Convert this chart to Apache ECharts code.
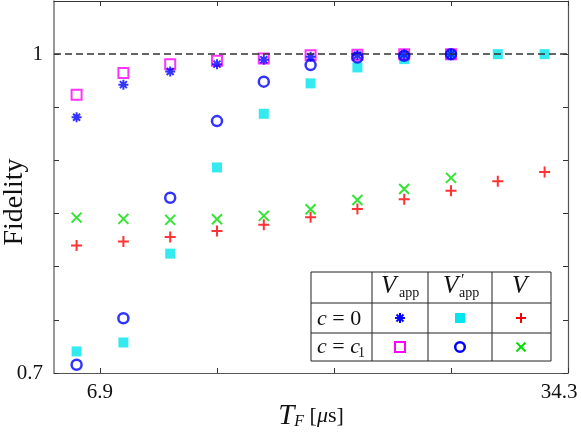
<!DOCTYPE html>
<html>
<head>
<meta charset="utf-8">
<script src="https://cdn.jsdelivr.net/npm/echarts@6/dist/echarts.min.js"></script>
<style>
  html, body { margin: 0; padding: 0; background: #fff; }
  #chart { width: 581px; height: 433px; }
</style>
</head>
<body>
<div id="chart"></div>
<script>
// T_F values (us)
var tf = [5.53, 8.27, 11.01, 13.75, 16.49, 19.23, 21.97, 24.71, 27.45, 30.19, 32.93];
var xTicks = [6.9, 13.75, 20.6, 27.45, 34.3];
var xLabels = [6.9, 34.3];
var yLabels = [0.7, 1];

// fidelity values, one array per marker
var vAppC0 = [0.9407, 0.9713, 0.9837, 0.9906, 0.9947, 0.9975, 0.9990, 0.9997, 1.0];      // blue *
var vAppC1 = [0.9619, 0.9822, 0.9906, 0.9937, 0.9959, 0.9990, 0.9995, 1.0, 1.0];         // magenta square
var vpAppC0 = [0.7203, 0.7287, 0.8123, 0.8934, 0.9439, 0.9725, 0.9875, 0.9953, 0.9990, 1.0, 1.0]; // cyan square
var vpAppC1 = [0.7078, 0.7515, 0.8649, 0.9370, 0.9741, 0.9897, 0.9968, 0.9984, 1.0];     // blue circle
var vC0 = [0.8200, 0.8238, 0.8279, 0.8335, 0.8394, 0.8466, 0.8543, 0.8634, 0.8715, 0.8805, 0.8890]; // red +
var vC1 = [0.8462, 0.8450, 0.8441, 0.8447, 0.8478, 0.8541, 0.8628, 0.8731, 0.8836];     // green x

function pts(vals) {
  return vals.map(function (v, i) { return [tf[i], v]; });
}

var PLUS = 'path://M5,0L5,10M0,5L10,5';
var CROSS = 'path://M0,0L10,10M0,10L10,0';
var STAR = 'path://M5,0L5,10M0,5L10,5M1.5,1.5L8.5,8.5M1.5,8.5L8.5,1.5';

var serif = '"Liberation Serif", "DejaVu Serif", serif';

// small marker drawings for the legend table
function mark(kind, cx, cy) {
  var h = 5, s = 4.5;
  var lines = [];
  if (kind === 'plus' || kind === 'star') {
    lines.push([cx, cy - h, cx, cy + h], [cx - h, cy, cx + h, cy]);
  }
  if (kind === 'cross' || kind === 'star') {
    var d = kind === 'star' ? 3.5 : s;
    lines.push([cx - d, cy - d, cx + d, cy + d], [cx - d, cy + d, cx + d, cy - d]);
  }
  var col = { plus: '#ff0000', cross: '#00dd00', star: '#0000ff' }[kind];
  if (lines.length) {
    return lines.map(function (l) {
      return { type: 'line', shape: { x1: l[0], y1: l[1], x2: l[2], y2: l[3] }, style: { stroke: col, lineWidth: 2 } };
    });
  }
  if (kind === 'fsq') return [{ type: 'rect', shape: { x: cx - 5, y: cy - 5, width: 10, height: 10 }, style: { fill: '#00e5ee' } }];
  if (kind === 'hsq') return [{ type: 'rect', shape: { x: cx - 5, y: cy - 5, width: 10, height: 10 }, style: { fill: 'none', stroke: '#ff00ff', lineWidth: 2 } }];
  if (kind === 'circ') return [{ type: 'circle', shape: { cx: cx, cy: cy, r: 4.8 }, style: { fill: 'none', stroke: '#0000ff', lineWidth: 2.5 } }];
  return [];
}

function txt(x, y, text, size, italic, align) {
  return {
    type: 'text', x: x, y: y,
    style: {
      text: text, fontFamily: serif, fontSize: size, fontStyle: italic ? 'italic' : 'normal',
      fill: '#111', align: align || 'left', verticalAlign: 'middle'
    }
  };
}

var colX = [311, 372, 428, 492, 551];
var rowY = [272, 303, 333, 361];
var table = [];
table.push({ type: 'rect', shape: { x: colX[0], y: rowY[0], width: colX[4] - colX[0], height: rowY[3] - rowY[0] },
  style: { fill: '#fff', stroke: '#222', lineWidth: 1 } });
[1, 2, 3].forEach(function (i) {
  table.push({ type: 'line', shape: { x1: colX[i], y1: rowY[0], x2: colX[i], y2: rowY[3] }, style: { stroke: '#222', lineWidth: 1 } });
});
[1, 2].forEach(function (i) {
  table.push({ type: 'line', shape: { x1: colX[0], y1: rowY[i], x2: colX[4], y2: rowY[i] }, style: { stroke: '#222', lineWidth: 1 } });
});
// header
table.push(txt(381, 286, 'V', 25, true));
table.push(txt(399, 293, 'app', 14, false));
table.push(txt(443, 286, 'V', 25, true));
table.push(txt(461, 281, '\u2032', 16, false));
table.push(txt(459, 293, 'app', 14, false));
table.push(txt(512, 286, 'V', 25, true));
// row labels
table.push({
  type: 'text', x: 317, y: 319,
  style: {
    text: '{i|c} = 0', fontFamily: serif, fontSize: 22, fill: '#111', verticalAlign: 'middle',
    rich: { i: { fontFamily: serif, fontSize: 22, fontStyle: 'italic', fill: '#111' } }
  }
});
table.push({
  type: 'text', x: 317, y: 347,
  style: {
    text: '{i|c} = {i|c}', fontFamily: serif, fontSize: 22, fill: '#111', verticalAlign: 'middle',
    rich: { i: { fontFamily: serif, fontSize: 22, fontStyle: 'italic', fill: '#111' } }
  }
});
table.push(txt(358, 353, '1', 14, false));
table = table
  .concat(mark('star', 400, 318))
  .concat(mark('fsq', 460, 318))
  .concat(mark('plus', 521, 318))
  .concat(mark('hsq', 400, 347))
  .concat(mark('circ', 460, 347))
  .concat(mark('cross', 521, 347));

var chart = echarts.init(document.getElementById('chart'));

var xMin = 4.207, xMax = 34.3;

var option = {
  animation: false,
  backgroundColor: '#fff',
  grid: { left: 54, right: 13, top: 1, bottom: 60, containLabel: false, outerBoundsMode: 'none' },
  xAxis: [
    {
      type: 'value', min: xMin, max: xMax, position: 'bottom',
      axisLine: { lineStyle: { color: '#555', width: 1.2 } },
      axisTick: { inside: true, length: 5, customValues: xTicks, lineStyle: { color: '#333' } },
      axisLabel: {
        customValues: xLabels, margin: 9, fontFamily: serif, fontSize: 21, color: '#111',
        formatter: function (v) { return Math.abs(v - 34.3) < 1e-6 ? '{r|34.3}' : String(v); },
        rich: { r: { fontFamily: serif, fontSize: 21, color: '#111', padding: [0, 18, 0, 0] } }
      },
      splitLine: { show: false },
      name: '{t|T}{f|F} [{m|\u03bc}s]',
      nameLocation: 'middle', nameGap: 29, nameMoveOverlap: false,
      nameTextStyle: {
        fontFamily: serif, fontSize: 22, color: '#111',
        rich: {
          t: { fontFamily: serif, fontSize: 29, fontStyle: 'italic', color: '#111' },
          f: { fontFamily: serif, fontSize: 16, fontStyle: 'italic', color: '#111', padding: [10, 0, 0, 0] },
          m: { fontFamily: serif, fontSize: 22, fontStyle: 'italic', color: '#111' }
        }
      }
    },
    {
      type: 'value', min: xMin, max: xMax, position: 'top',
      axisLine: { lineStyle: { color: '#333', width: 1.2 } },
      axisTick: { inside: true, length: 5, customValues: xTicks, lineStyle: { color: '#333' } },
      axisLabel: { show: false },
      splitLine: { show: false }
    }
  ],
  yAxis: [
    {
      type: 'value', min: 0.7, max: 1.05, interval: 0.05,
      axisLine: { show: true, lineStyle: { color: '#777', width: 1.5 } },
      axisTick: { show: true, inside: true, length: 5, lineStyle: { color: '#333' } },
      axisLabel: {
        margin: 11, fontFamily: serif, fontSize: 21, color: '#111',
        formatter: function (v) {
          for (var i = 0; i < yLabels.length; i++) {
            if (Math.abs(v - yLabels[i]) < 1e-6) return String(yLabels[i]);
          }
          return '';
        }
      },
      splitLine: { show: false },
      name: 'Fidelity', nameLocation: 'middle', nameGap: 25, nameMoveOverlap: false,
      nameTextStyle: { fontFamily: serif, fontSize: 28, color: '#111', padding: [0, 30, 0, 0] }
    },
    {
      type: 'value', min: 0.7, max: 1.05, interval: 0.05, position: 'right',
      axisLine: { show: true, lineStyle: { color: '#555', width: 1.2 } },
      axisTick: { show: true, inside: true, length: 5, lineStyle: { color: '#333' } },
      axisLabel: { show: false },
      splitLine: { show: false }
    }
  ],
  series: [
    {
      name: 'vpAppC0', type: 'scatter', data: pts(vpAppC0), symbol: 'rect', symbolSize: 10,
      itemStyle: { color: '#00e5ee' }, z: 2,
      markLine: {
        silent: true, symbol: 'none', label: { show: false },
        lineStyle: { type: [7, 4], color: '#333', width: 1.7 },
        data: [{ yAxis: 1 }]
      }
    },
    {
      name: 'vAppC1', type: 'scatter', data: pts(vAppC1), symbol: 'rect', symbolSize: 10,
      itemStyle: { color: 'rgba(0,0,0,0)', borderColor: '#ff00ff', borderWidth: 2 }, z: 3
    },
    {
      name: 'vAppC0', type: 'scatter', data: pts(vAppC0), symbol: STAR, symbolSize: 10,
      itemStyle: { color: 'rgba(0,0,0,0)', borderColor: '#0000ff', borderWidth: 2 }, z: 4
    },
    {
      name: 'vpAppC1', type: 'scatter', data: pts(vpAppC1), symbol: 'circle', symbolSize: 10,
      itemStyle: { color: 'rgba(0,0,0,0)', borderColor: '#0000ff', borderWidth: 2.5 }, z: 5
    },
    {
      name: 'vC1', type: 'scatter', data: pts(vC1), symbol: CROSS, symbolSize: 10,
      itemStyle: { color: 'rgba(0,0,0,0)', borderColor: '#00dd00', borderWidth: 2 }, z: 4
    },
    {
      name: 'vC0', type: 'scatter', data: pts(vC0), symbol: PLUS, symbolSize: 11,
      itemStyle: { color: 'rgba(0,0,0,0)', borderColor: '#ff0000', borderWidth: 2 }, z: 4
    }
  ],
  graphic: table
};

chart.setOption(option);
</script>
</body>
</html>
